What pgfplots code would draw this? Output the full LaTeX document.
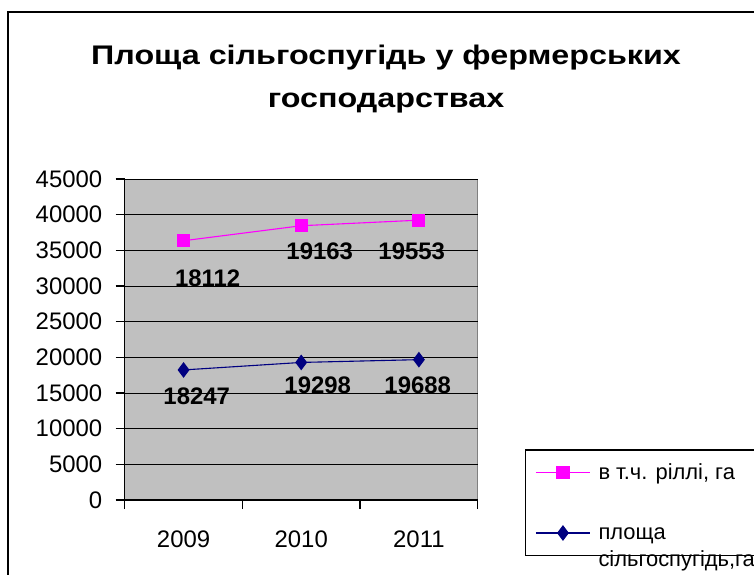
\documentclass[border=0pt]{standalone}
\usepackage{fontspec}
\setmainfont{Liberation Sans}
\newfontfamily\titlefont[FakeStretch=1.2]{Liberation Sans Bold}
\usepackage{pgfplots}
\pgfplotsset{compat=1.18}
\definecolor{pinkc}{RGB}{255,0,255}
\definecolor{navyc}{RGB}{0,0,128}
\definecolor{plotgray}{RGB}{192,192,192}
\begin{document}
\begin{tikzpicture}[x=1bp,y=1bp]
\useasboundingbox (0,0) rectangle (754,575);
\clip (0,0) rectangle (754,575);
\fill[white] (0,0) rectangle (754,575);
\draw[line width=1.5bp] (8,-20) -- (8,563) -- (800,563);
\node[font=\titlefont\fontsize{27}{43}\selectfont, align=center] at (386,575-79) {Площа сільгоспугідь у фермерських\\господарствах};
\begin{axis}[
  at={(106,105)}, anchor=south west,
  scale only axis, width=353bp, height=321bp,
  xmin=0.5, xmax=3.5, ymin=0, ymax=45000,
  axis background/.style={fill=plotgray, draw=gray, line width=1bp},
  axis lines*=left,
  axis line style={line width=1.2bp, black},
  ytick={0,5000,...,45000},
  scaled y ticks=false,
  ymajorgrids, grid style={black, line width=1bp},
  xtick={1,2,3}, xticklabels={2009,2010,2011},
  minor xtick={0.5,1.5,2.5,3.5},
  major x tick style={draw=none},
  minor x tick style={black, line width=1.2bp},
  major y tick style={black, line width=1.2bp},
  tick align=outside,
  major tick length=9bp, minor tick length=9bp,
  /pgf/number format/1000 sep={},
  /pgf/number format/assume math mode=true,
  tick label style={font=\fontsize{24}{28}\selectfont},
  yticklabel style={xshift=-10bp},
  xticklabel style={yshift=-18bp},
  stack plots=y,
  reverse legend,
  legend style={at={(1.133,0.159)}, anchor=north west, draw=black, line width=1.5bp, fill=white,
    font=\fontsize{22}{27}\selectfont, cells={anchor=base west}, row sep=36bp, column sep=6bp,
    inner xsep=10bp, inner ysep=12bp},
  legend image code/.code={\draw[mark repeat=2,mark phase=2,yshift=7bp,#1] plot coordinates {(0bp,0bp) (27bp,0bp) (54bp,0bp)};},
]
\addplot[navyc, line width=1.1bp, mark=diamond*, mark size=7bp, mark options={fill=navyc, draw=navyc}] coordinates {(1,18247) (2,19298) (3,19688)};
\addlegendentry{\begin{tabular}[t]{@{}l@{}}площа\\[0bp]сільгоспугідь,га\end{tabular}}
\addplot[pinkc, line width=1.1bp, mark=square*, mark size=6bp, mark options={fill=pinkc, draw=pinkc}] coordinates {(1,18112) (2,19163) (3,19553)};
\addlegendentry{в т.ч. ріллі, га}
\node[font=\bfseries\fontsize{24}{28}\selectfont] at (axis cs:1.205,31121) {18112};
\node[font=\bfseries\fontsize{24}{28}\selectfont] at (axis cs:2.157,34907) {19163};
\node[font=\bfseries\fontsize{24}{28}\selectfont] at (axis cs:2.939,34907) {19553};
\node[font=\bfseries\fontsize{24}{28}\selectfont] at (axis cs:1.112,14579) {18247};
\node[font=\bfseries\fontsize{24}{28}\selectfont] at (axis cs:2.140,16050) {19298};
\node[font=\bfseries\fontsize{24}{28}\selectfont] at (axis cs:2.990,16050) {19688};
\end{axis}
\end{tikzpicture}
\end{document}
